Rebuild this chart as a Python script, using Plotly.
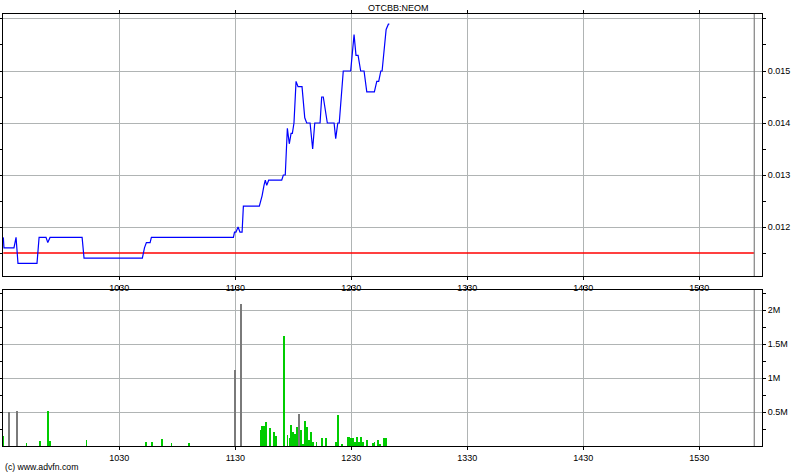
import plotly.graph_objects as go

DATE = "2010-06-15"

price_times = [
    "09:30:00", "09:30:20", "09:35:30", "09:36:35", "09:37:35", "09:47:25", "09:48:30",
    "09:52:05", "09:53:00", "09:54:10", "10:10:45", "10:11:45", "10:41:55", "10:43:00",
    "10:44:00", "10:45:55", "10:46:35", "11:29:00", "11:29:35", "11:30:20", "11:31:25",
    "11:32:25", "11:33:30", "11:34:10", "11:42:25", "11:43:50", "11:44:50", "11:45:30",
    "11:46:15", "11:47:15", "11:54:00", "11:54:50", "11:55:50", "11:56:55", "11:57:55",
    "11:58:50", "11:59:30", "12:00:20", "12:01:25", "12:02:25", "12:04:30", "12:05:55",
    "12:06:55", "12:08:40", "12:10:00", "12:11:05", "12:13:50", "12:14:40", "12:15:30",
    "12:17:35", "12:21:05", "12:21:55", "12:23:00", "12:23:45", "12:25:50", "12:29:40",
    "12:31:25", "12:32:25", "12:33:30", "12:34:50", "12:36:35", "12:38:00", "12:41:55",
    "12:43:10", "12:44:10", "12:45:15", "12:45:55", "12:48:00", "12:49:10", "12:49:40",
]
price_values = [
    0.0118, 0.0116, 0.0116, 0.0118, 0.0113, 0.0113, 0.0118,
    0.0118, 0.0117, 0.0118, 0.0118, 0.0114, 0.0114, 0.0116,
    0.0117, 0.0117, 0.0118, 0.0118, 0.0119, 0.0119, 0.0120,
    0.0119, 0.0119, 0.0124, 0.0124, 0.0126, 0.0128, 0.0129,
    0.0128, 0.0129, 0.0129, 0.0130, 0.0130, 0.0139, 0.0136,
    0.0138, 0.0138, 0.0140, 0.0148, 0.0147, 0.0147, 0.0141,
    0.0140, 0.0140, 0.0135, 0.0140, 0.0140, 0.0145, 0.0145,
    0.0140, 0.0140, 0.0137, 0.0140, 0.0140, 0.0150, 0.0150,
    0.0157, 0.0153, 0.0153, 0.0150, 0.0150, 0.0146, 0.0146,
    0.0148, 0.0148, 0.0150, 0.0150, 0.0158, 0.0159, 0.0159,
]

vol_times = [
    "09:30", "09:33", "09:37", "09:42", "09:49", "09:53", "09:54", "10:13", "10:44", "10:47",
    "10:52", "10:57", "11:06", "11:30", "11:33", "11:43", "11:44", "11:45", "11:46", "11:48",
    "11:50", "11:51", "11:55", "11:57", "11:58", "11:59", "12:00", "12:01", "12:02", "12:03",
    "12:04", "12:05", "12:06", "12:07", "12:08", "12:09", "12:10", "12:12", "12:15", "12:17",
    "12:22", "12:23", "12:25", "12:28", "12:29", "12:30", "12:31", "12:32", "12:33", "12:34",
    "12:35", "12:36", "12:38", "12:41", "12:42", "12:44", "12:45", "12:47", "12:48",
]
vol_values = [
    150000, 500000, 520000, 44000, 78000, 520000, 78000, 93000, 53000, 63000,
    107000, 40000, 40000, 1120000, 2090000, 240000, 300000, 300000, 360000, 270000,
    210000, 150000, 1620000, 165000, 120000, 310000, 210000, 180000, 280000, 475000,
    240000, 30000, 370000, 280000, 90000, 200000, 60000, 60000, 120000, 120000,
    60000, 450000, 30000, 140000, 140000, 120000, 120000, 60000, 140000, 60000,
    140000, 60000, 90000, 50000, 60000, 90000, 30000, 120000, 120000,
]
vol_kind = [
    "g", "k", "k", "g", "g", "g", "g", "g", "g", "g",
    "g", "g", "g", "k", "k", "g", "g", "g", "g", "g",
    "g", "g", "g", "g", "g", "g", "g", "g", "g", "k",
    "g", "g", "g", "g", "g", "g", "g", "g", "g", "g",
    "g", "g", "g", "g", "g", "g", "g", "g", "g", "g",
    "g", "g", "g", "g", "g", "g", "g", "g", "g",
]

prev_close = 0.0115
session = ["09:30:00", "15:58:25"]
x_range = ["09:29:50", "16:02:25"]

tick_times = ["10:30", "11:30", "12:30", "13:30", "14:30", "15:30"]
tick_labels = ["1030", "1130", "1230", "1330", "1430", "1530"]
price_ticks = [0.012, 0.013, 0.014, 0.015, 0.016]
price_tick_labels = ["0.012", "0.013", "0.014", "0.015", ""]
vol_ticks = [500000, 1000000, 1500000, 2000000]
vol_tick_labels = ["0.5M", "1M", "1.5M", "2M"]

price_range = [0.011058, 0.016096]
vol_range = [0, 2298500]


def ts(t):
    if len(t) == 5:
        t = t + ":00"
    return f"{DATE} {t}"


GREEN = "#00cc00"
GREY = "#7a7a7a"
GRID = "#b0b4b4"
color_map = {"g": GREEN, "k": GREY}

fig = go.Figure()
fig.add_trace(go.Scatter(
    x=[ts(t) for t in session], y=[prev_close, prev_close],
    mode="lines", line=dict(color="#ff0000", width=1.3),
    xaxis="x", yaxis="y", hoverinfo="skip"))
fig.add_trace(go.Scatter(
    x=[ts(t) for t in price_times], y=price_values,
    mode="lines", line=dict(color="#0000ff", width=1.2),
    xaxis="x", yaxis="y"))
fig.add_trace(go.Bar(
    x=[ts(t) for t in vol_times], y=vol_values,
    marker=dict(color=[color_map[k] for k in vol_kind], line=dict(width=0)),
    width=26000, xaxis="x2", yaxis="y2"))

minor_price = [(a + b) / 2 for a, b in zip([price_ticks[0] - 0.001] + price_ticks, price_ticks)]
minor_vol = [v - 250000 for v in vol_ticks] + [vol_ticks[-1] + 250000]

common_x = dict(
    type="date", range=[ts(t) for t in x_range], automargin=False,
    tickmode="array", tickvals=[ts(t) for t in tick_times], ticktext=tick_labels,
    ticks="outside", ticklen=3, tickcolor="black",
    showgrid=True, gridcolor=GRID, gridwidth=1,
    showline=True, linecolor="black", linewidth=1, mirror="ticks",
    tickfont=dict(size=9), zeroline=False,
)
common_y = dict(
    side="right", tickmode="array", automargin=False,
    ticks="outside", ticklen=3, tickcolor="black",
    showgrid=True, gridcolor=GRID, gridwidth=1,
    showline=True, linecolor="black", linewidth=1, mirror="ticks",
    tickfont=dict(size=9), zeroline=False,
)

top_dom = [(446 - 276) / 432, 1.0]
bot_dom = [0.0, (446 - 290) / 432]

fig.update_layout(
    width=800, height=475,
    margin=dict(l=3, r=38, t=14, b=29, autoexpand=False),
    paper_bgcolor="white", plot_bgcolor="white",
    showlegend=False, bargap=0,
    font=dict(family="Liberation Sans, Arial, sans-serif", size=9, color="black"),
    xaxis=dict(common_x, domain=[0, 1], anchor="y", showticklabels=True),
    xaxis2=dict(common_x, domain=[0, 1], anchor="y2", showticklabels=True),
    yaxis=dict(common_y, domain=top_dom, anchor="x", range=price_range,
               tickvals=price_ticks, ticktext=price_tick_labels,
               minor=dict(tickmode="array", tickvals=minor_price, ticks="outside",
                          ticklen=3, tickcolor="black", showgrid=False)),
    yaxis2=dict(common_y, domain=bot_dom, anchor="x2", range=vol_range,
                tickvals=vol_ticks, ticktext=vol_tick_labels,
                minor=dict(tickmode="array", tickvals=minor_vol, ticks="outside",
                           ticklen=3, tickcolor="black", showgrid=False)),
    annotations=[
        dict(text="OTCBB:NEOM", xref="paper", yref="paper", x=0.521, y=1 + 6 / 432,
             xanchor="center", yanchor="middle", showarrow=False, font=dict(size=9)),
        dict(text="(c) www.advfn.com", xref="paper", yref="paper", x=0.0, y=-21 / 432,
             xanchor="left", yanchor="middle", showarrow=False, font=dict(size=8.7)),
    ],
    shapes=[
        dict(type="line", xref="x", yref="y domain", x0=ts(session[1]), x1=ts(session[1]),
             y0=0, y1=1, line=dict(color="#808080", width=1.2)),
        dict(type="line", xref="x2", yref="y2 domain", x0=ts(session[1]), x1=ts(session[1]),
             y0=0, y1=1, line=dict(color="#808080", width=1.2)),
    ],
)

fig.write_html("out.html", config={"displayModeBar": False},
               post_script="document.body.style.margin='0';")
